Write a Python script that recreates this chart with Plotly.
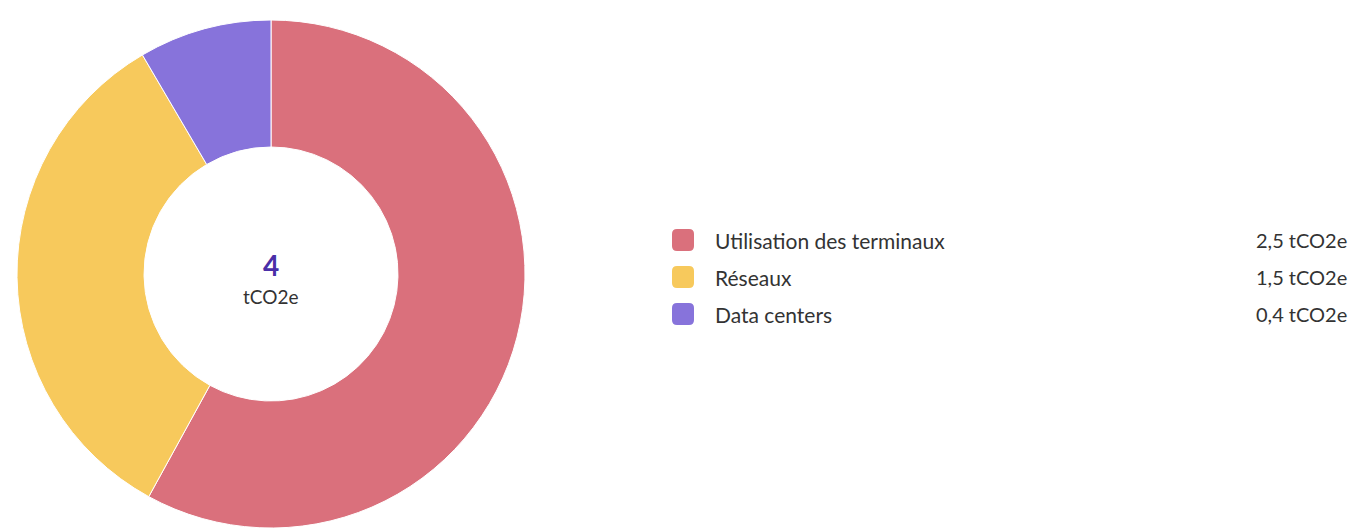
import plotly.graph_objects as go

categories = ["Utilisation des terminaux", "Réseaux", "Data centers"]
values = [2.54, 1.47, 0.37]
value_labels = ["2,5 tCO2e", "1,5 tCO2e", "0,4 tCO2e"]
colors = ["#DA707C", "#F7C95C", "#8773DB"]
total_label = "4"
unit_label = "tCO2e"

W, H = 1353, 528

def px(x):
    return x / W

def py(y):
    return 1 - y / H

fig = go.Figure()
fig.add_trace(go.Pie(
    labels=categories,
    values=values,
    marker=dict(colors=colors, line=dict(color="#ffffff", width=1)),
    hole=0.5,
    sort=False,
    direction="clockwise",
    rotation=0,
    textinfo="none",
    showlegend=False,
    domain=dict(x=[px(17), px(525)], y=[0, py(20)]),
))

annotations = [
    dict(x=px(271), y=py(265), xref="paper", yref="paper", text=total_label,
         showarrow=False, xanchor="center", yanchor="middle",
         font=dict(family="Lato", size=28, color="#4A2FA8", weight="bold")),
    dict(x=px(271), y=py(296), xref="paper", yref="paper", text=unit_label,
         showarrow=False, xanchor="center", yanchor="middle",
         font=dict(family="Lato", size=19, color="#333333")),
]
shapes = []
row_y = [240, 277, 314]
for i, (cat, lab, col) in enumerate(zip(categories, value_labels, colors)):
    yc = row_y[i]
    x0, x1 = 672, 694
    y0, y1 = yc - 11, yc + 11
    r = 5
    pts = (
        f"M {px(x0+r)},{py(y0)} L {px(x1-r)},{py(y0)} "
        f"Q {px(x1)},{py(y0)} {px(x1)},{py(y0+r)} "
        f"L {px(x1)},{py(y1-r)} Q {px(x1)},{py(y1)} {px(x1-r)},{py(y1)} "
        f"L {px(x0+r)},{py(y1)} Q {px(x0)},{py(y1)} {px(x0)},{py(y1-r)} "
        f"L {px(x0)},{py(y0+r)} Q {px(x0)},{py(y0)} {px(x0+r)},{py(y0)} Z"
    )
    shapes.append(dict(type="path", path=pts, xref="paper", yref="paper",
                       fillcolor=col, line=dict(width=0)))
    annotations.append(dict(x=px(713), y=py(yc), xref="paper", yref="paper",
                            text=cat, showarrow=False, xanchor="left", yanchor="middle",
                            font=dict(family="Lato", size=21, color="#333333")))
    annotations.append(dict(x=px(1349), y=py(yc), xref="paper", yref="paper",
                            text=lab, showarrow=False, xanchor="right", yanchor="middle",
                            font=dict(family="Lato", size=20, color="#333333")))

fig.update_layout(
    width=W, height=H,
    margin=dict(l=0, r=0, t=0, b=0),
    paper_bgcolor="white", plot_bgcolor="white",
    annotations=annotations, shapes=shapes,
)
fig.write_html("out.html", config={"displayModeBar": False},
               post_script="document.body.style.margin='0';")
